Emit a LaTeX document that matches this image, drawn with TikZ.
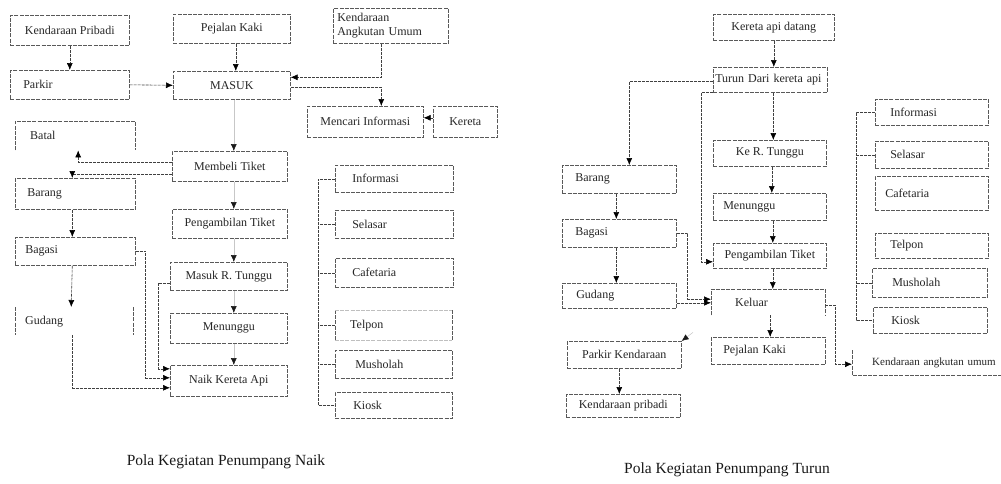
\documentclass[tikz,border=0pt]{standalone}
\usepackage{fontspec}
\setmainfont{Liberation Serif}
\usetikzlibrary{arrows.meta,calc}
\begin{document}
\begin{tikzpicture}[x=1pt,y=-1pt,
  edge/.style={draw=black!65, line width=0.6pt, dash pattern=on 4pt off 1.2pt},
  label/.style={anchor=north west, inner sep=0pt, font=\fontsize{12}{13.5}\selectfont, text=black!85},
  box/.style={label, edge},
  bare/.style={label},
  sz/.style 2 args={minimum width=#1, minimum height=#2},
  lft/.style={text width=#1, align=left},
  link/.style={draw=black!75, line width=0.6pt, dash pattern=on 3pt off 1pt},
  arr/.style={link, -{Latex[length=7pt,width=6pt,color=black]}},
  faint/.style={draw=black!22, line width=0.5pt, -{Latex[length=7pt,width=6pt,color=black!90]}},
  caption/.style={font=\fontsize{15.5}{18}\selectfont, text=black!90},
]
\useasboundingbox[fill=white] (0,0) rectangle (1001,483);

% ---------- boarding passengers ----------
\node[box, sz={119}{30}] (kp) at (10,15) {Kendaraan Pribadi};
\node[box, sz={117}{29}] (pk) at (173,14) {Pejalan Kaki};
\node[box, sz={115}{35}, lft=107] (kau) at (333,8) {Kendaraan\\Angkutan Umum};
\node[box, sz={119}{29}, lft=93] (par) at (10,70) {Parkir};
\node[box, sz={117}{28}] (mas) at (173,71) {MASUK};
\node[box, sz={116}{31}] (mi) at (307,106) {Mencari Informasi};
\node[box, sz={64}{31}] (ker) at (433,106) {Kereta};
\node[bare, sz={120}{29}, lft=90] (bat) at (15,121) {Batal};
\node[box, sz={115}{30}] (mt) at (172,151) {Membeli Tiket};
\node[box, sz={120}{31}, lft=96] (bar) at (15,178) {Barang};
\node[box, sz={115}{29}] (pt) at (172,209) {Pengambilan Tiket};
\node[box, sz={120}{28}, lft=100] (bag) at (15,237) {Bagasi};
\node[box, sz={117}{28}] (mrt) at (170,262) {Masuk R. Tunggu};
\node[bare, sz={118}{28}, lft=98] (gud) at (15,307) {Gudang};
\node[box, sz={117}{30}] (men) at (170,313) {Menunggu};
\node[box, sz={117}{31}] (nka) at (170,365) {Naik Kereta Api};

% open outlines
\draw[edge] (bat.south west) -- (bat.north west) -- (bat.north east) -- (bat.south east);
\draw[edge] (gud.north west) -- (gud.south west);
\draw[edge] (gud.north east) -- (gud.south east);

% station facilities
\node[box, sz={118}{27}, lft=84] (inf) at (335,165) {Informasi};
\node[box, sz={118}{28}, lft=84] (sel) at (335,210) {Selasar};
\node[box, sz={118}{29}, lft=84] (caf) at (335,258) {Cafetaria};
\node[bare, sz={117}{30}, lft=87] (tel) at (335,310) {Telpon};
\node[box, sz={117}{28}, lft=77] (mus) at (335,350) {Musholah};
\node[box, sz={117}{26}, lft=81] (kio) at (335,392) {Kiosk};
\draw[edge] (tel.north west) -- (tel.south west);
\draw[edge] (tel.north east) -- (tel.south east);
\draw[edge, draw=black!25] (tel.north west) -- (tel.north east);
\draw[edge, draw=black!25] (tel.south west) -- (tel.south east);

\coordinate (lbr) at ([xshift=-17pt]inf.west);
\draw[link] (inf.west) -| (lbr |- kio.west) -- (kio.west);
\foreach \f in {sel,caf,tel,mus} \draw[link] (\f.west) -- (\f.west -| lbr);

% flow
\draw[arr] (kp) -- (par);
\draw[arr] ([xshift=4pt]pk.south) -- ([xshift=4pt]pk.south |- mas.north);
\draw[arr] (par.east) -- (mas.west);
\draw[arr] ([xshift=-10pt]kau.south) |- ([yshift=8pt]mas.east);
\draw[arr] ([yshift=-2pt]mas.east) -| ([xshift=16pt]mi.north);
\draw[arr] ([yshift=4pt]ker.west) -- ([yshift=4pt]mi.east);
\draw[faint] ([xshift=2pt]mas.south) -- ([xshift=2pt]mas.south |- mt.north);
\draw[faint] ([xshift=4pt]mt.south) -- ([xshift=4pt]mt.south |- pt.north);
\draw[faint] ([xshift=4pt]pt.south) -- ([xshift=4pt]pt.south |- mrt.north);
\draw[faint] ([xshift=5pt]mrt.south) -- ([xshift=5pt]mrt.south |- men.north);
\draw[faint] ([xshift=5pt]men.south) -- ([xshift=5pt]men.south |- nka.north);
\draw[arr] ([yshift=4pt]mt.west) -| ([xshift=3pt]bat.south);
\draw[arr] ([yshift=-8pt]mt.west) -| ([xshift=-3pt]bar.north);
\draw[arr] ([xshift=-3pt]bar.south) -- ([xshift=-3pt]bag.north);
\draw[arr] ([xshift=-3pt]bag.south) -- ([xshift=-3pt]gud.north);
\draw[arr] (bag.east) -- ([xshift=10pt]bag.east) |- ([yshift=3pt]nka.west);
\draw[arr] ([xshift=-2pt]gud.south) |- ([yshift=-7pt]nka.west);
\draw[arr] ([yshift=-7pt]mrt.west) -- ([xshift=-12pt,yshift=-7pt]mrt.west) |- ([yshift=12pt]nka.west);

\node[caption] (capL) at (226,462) {Pola Kegiatan Penumpang Naik};

% ---------- alighting passengers ----------
\node[box, sz={121}{26}] (kad) at (713,14) {Kereta api datang};
\node[box, sz={114}{25}, lft=110] (tdk) at (713,67) {Turun Dari kereta api};
\node[box, sz={114}{28}, lft=88] (rbar) at (562,165) {Barang};
\node[box, sz={113}{26}] (rkt) at (713,140) {Ke R. Tunggu};
\node[box, sz={114}{28}, lft=88] (rbag) at (562,219) {Bagasi};
\node[box, sz={113}{27}, lft=93] (rmen) at (713,193) {Menunggu};
\node[box, sz={114}{25}, lft=86] (rgud) at (562,283) {Gudang};
\node[box, sz={113}{25}] (rpt) at (713,243) {Pengambilan Tiket};
\node[bare, sz={114}{26}, lft=66] (kel) at (711,289) {Keluar};
\node[box, sz={114}{27}, lft=90] (rpk) at (711,337) {Pejalan Kaki};
\node[box, sz={114}{27}] (park) at (567,341) {Parkir Kendaraan};
\node[box, sz={114}{23}] (kpr) at (566,394) {Kendaraan pribadi};
\node[bare, sz={180}{25}, lft=140, font=\fontsize{11}{13}\selectfont] (kaur) at (852,350) {Kendaraan angkutan umum};
\draw[edge] (kel.south west) -- (kel.north west) -- (kel.north east) -- (kel.south east);
\draw[edge] (kaur.north west) -- (kaur.south west) -- (kaur.south east);

\node[box, sz={113}{26}, lft=83] (rinf) at (875,99) {Informasi};
\node[box, sz={113}{27}, lft=83] (rsel) at (875,141) {Selasar};
\node[box, sz={113}{34}, lft=93] (rcaf) at (875,176) {Cafetaria};
\node[box, sz={113}{25}, lft=83] (rtel) at (875,233) {Telpon};
\node[box, sz={115}{29}, lft=75] (rmus) at (872,268) {Musholah};
\node[box, sz={114}{26}, lft=78] (rkio) at (873,307) {Kiosk};

\coordinate (rbr) at ([xshift=-19pt]rinf.west);
\draw[link] (rinf.west) -| (rbr |- rkio.west) -- (rkio.west);
\foreach \f in {rsel,rmus} \draw[link] (\f.west) -- (\f.west -| rbr);

\draw[arr] (kad.south) -- (kad.south |- tdk.north);
\draw[arr] ([yshift=-1.5pt]tdk.west) -| ([xshift=10pt]rbar.north);
\draw[arr] ([xshift=3pt]tdk.south) -- ([xshift=3pt]tdk.south |- rkt.north);
\draw[arr] (tdk.south west) -- ([xshift=-12pt]tdk.south west) |- ([yshift=-6pt]rpt.west);
\draw[arr] ([xshift=-3pt]rbar.south) -- ([xshift=-3pt]rbar.south |- rbag.north);
\draw[arr] ([xshift=-3pt]rbag.south) -- ([xshift=-3pt]rbag.south |- rgud.north);
\draw[arr] ([xshift=2pt]rkt.south) -- ([xshift=2pt]rkt.south |- rmen.north);
\draw[arr] ([xshift=3pt]rmen.south) -- ([xshift=3pt]rmen.south |- rpt.north);
\draw[arr] ([xshift=3pt]rpt.south) -- ([xshift=3pt]rpt.south |- kel.north);
\draw[arr] (rbag.east) -- ([xshift=11pt]rbag.east) |- ([yshift=3pt]kel.west);
\draw[arr] ([yshift=-7pt]rgud.east) -- ([yshift=-7pt]rgud.east -| kel.west);
\draw[arr] ([xshift=2pt]kel.south) -- ([xshift=2pt]kel.south |- rpk.north);
\draw[arr] ([yshift=-3pt]kel.east) -- ([xshift=10pt,yshift=-3pt]kel.east) |- ([yshift=-1.5pt]kaur.west);
\draw[faint] ([xshift=-18pt,yshift=-17pt]kel.south west) -- (park.north east);
\draw[arr] ([xshift=-5pt]park.south) -- ([xshift=-5pt]park.south |- kpr.north);

\node[caption] (capR) at (727,470) {Pola Kegiatan Penumpang Turun};
\end{tikzpicture}
\end{document}
